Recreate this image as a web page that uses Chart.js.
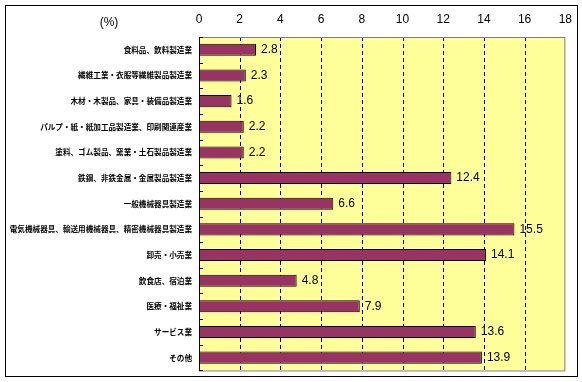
<!DOCTYPE html>
<html>
<head>
<meta charset="utf-8">
<script src="https://cdn.jsdelivr.net/npm/chart.js@4"></script>
<style>
  body { margin: 0; background: #fff; }
  #wrap { width: 582px; height: 382px; }
</style>
</head>
<body>
<div id="wrap"><canvas id="industryChart" width="582" height="382"></canvas></div>
<script>
const industries = [
  '食料品、飲料製造業',
  '繊維工業・衣服等繊維製品製造業',
  '木材・木製品、家具・装備品製造業',
  'パルプ・紙・紙加工品製造業、印刷関連産業',
  '塗料、ゴム製品、窯業・土石製品製造業',
  '鉄鋼、非鉄金属・金属製品製造業',
  '一般機械器具製造業',
  '電気機械器具、輸送用機械器具、精密機械器具製造業',
  '卸売・小売業',
  '飲食店、宿泊業',
  '医療・福祉業',
  'サービス業',
  'その他'
];
const shares = [2.8, 2.3, 1.6, 2.2, 2.2, 12.4, 6.6, 15.5, 14.1, 4.8, 7.9, 13.6, 13.9];
const axisMax = 18;
const axisStep = 2;

// yellow plot, dashed grid, borders, category ticks, "(%)" and value labels
const decorations = {
  id: 'decorations',
  beforeDatasetsDraw(chart) {
    const { ctx, chartArea: a, scales } = chart;
    ctx.save();
    ctx.fillStyle = '#ffff99';
    ctx.fillRect(a.left, a.top, a.right - a.left, a.bottom - a.top);
    ctx.strokeStyle = '#000';
    ctx.lineWidth = 1;
    ctx.setLineDash([4, 3]);
    ctx.beginPath();
    for (let v = axisStep; v < axisMax; v += axisStep) {
      const x = Math.round(scales.x.getPixelForValue(v)) + 0.5;
      ctx.moveTo(x, a.top);
      ctx.lineTo(x, a.bottom);
    }
    ctx.stroke();
    ctx.restore();
  },
  afterDatasetsDraw(chart) {
    const { ctx, chartArea: a } = chart;
    ctx.save();
    ctx.strokeStyle = '#808080';
    ctx.lineWidth = 1;
    ctx.strokeRect(a.left + 0.5, a.top + 0.5, a.right - a.left - 1, a.bottom - a.top);
    ctx.strokeStyle = '#000';
    ctx.beginPath();
    ctx.moveTo(a.left + 0.5, a.top);
    ctx.lineTo(a.left + 0.5, a.bottom);
    const band = (a.bottom - a.top) / industries.length;
    for (let i = 0; i <= industries.length; i++) {
      const y = Math.round(a.top + i * band) + 0.5;
      ctx.moveTo(a.left, y);
      ctx.lineTo(a.left + 4, y);
    }
    ctx.stroke();

    // outer frame
    ctx.strokeRect(5.5, 5.5, 572, 371);

    ctx.fillStyle = '#000';
    ctx.font = '12px "Liberation Sans", Arial, sans-serif';
    ctx.textAlign = 'center';
    ctx.textBaseline = 'middle';
    ctx.fillText('(%)', 109, 23);

    const meta = chart.getDatasetMeta(0);
    ctx.textAlign = 'left';
    meta.data.forEach((bar, i) => {
      ctx.fillText(shares[i].toFixed(1), bar.x + 5, bar.y);
    });
    ctx.restore();
  }
};

const ctx = document.getElementById('industryChart').getContext('2d');
const industryChart = new Chart(ctx, {
  type: 'bar',
  data: {
    labels: industries,
    datasets: [{
      data: shares,
      backgroundColor: '#993366',
      borderColor: '#000',
      borderWidth: 1,
      borderSkipped: false,
      barPercentage: 0.47,
      categoryPercentage: 1
    }]
  },
  options: {
    indexAxis: 'y',
    responsive: false,
    animation: false,
    layout: { padding: { left: 0, top: 0, right: 13, bottom: 9 } },
    plugins: {
      legend: { display: false },
      tooltip: { enabled: false }
    },
    scales: {
      x: {
        position: 'top',
        min: 0,
        max: axisMax,
        ticks: {
          stepSize: axisStep,
          color: '#000',
          padding: 10,
          font: { family: '"Liberation Sans", Arial, sans-serif', size: 12 }
        },
        grid: { display: false, drawTicks: false },
        border: { display: false },
        afterFit(scale) { scale.height = 37; }
      },
      y: {
        ticks: {
          color: '#000',
          padding: 7,
          autoSkip: false,
          font: { family: '"Noto Sans CJK JP", sans-serif', size: 7.6, weight: 'bold' }
        },
        grid: { display: false, drawTicks: false },
        border: { display: false },
        afterFit(scale) { scale.width = 199; }
      }
    }
  },
  plugins: [decorations]
});
</script>
</body>
</html>
